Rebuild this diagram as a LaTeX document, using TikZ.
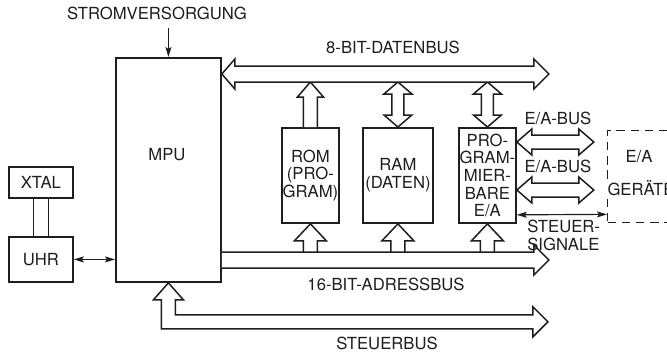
\documentclass[tikz,border=0pt]{standalone}
\usepackage{fontspec}
\setmainfont{TeX Gyre Heros}
\usetikzlibrary{calc,arrows.meta}
\definecolor{ink}{HTML}{1E1E1E}

\begin{document}
\begin{tikzpicture}[x=0.6pt, y=-0.6pt, font=\fontsize{10}{10.6}\selectfont,
  blk/.style={draw=ink, line width=1.1pt, fill=white, anchor=north west,
              inner sep=0pt, align=center, text=ink},
  fatbus/.style={draw=ink, line width=0.9pt, fill=white, line join=miter},
  sigline/.style={draw=ink, line width=0.7pt,
                  >={Stealth[length=6pt,width=3.6pt,inset=1.2pt]}},
  txt/.style={inner sep=0pt, text=ink, align=center}]

% =====================================================================
% Page frame (pixel units, y pointing down)
% =====================================================================
\clip (0,0) rectangle (667,355);
\fill[white] (0,0) rectangle (667,355);

% =====================================================================
% Blocks
% =====================================================================
\node[blk, minimum width=105*0.6pt, minimum height=224*0.6pt] (mpu) at (115,57) {};
\node[txt] (mpulbl) at (167,155) {MPU};

\node[blk, minimum width=64*0.6pt, minimum height=31*0.6pt] (xtal) at (8,166) {XTAL};
\node[blk, minimum width=64*0.6pt, minimum height=45*0.6pt] (uhr)  at (8,236) {UHR};

\node[blk, minimum width=57*0.6pt, minimum height=95*0.6pt] (rom)  at (281,127) {ROM\\(PRO-\\GRAM)};
\node[blk, minimum width=70*0.6pt, minimum height=95*0.6pt] (ram)  at (362,127) {RAM\\(DATEN)};
\node[blk, minimum width=57*0.6pt, minimum height=95*0.6pt] (prog) at (458,127) {PRO-\\GRAM-\\MIER-\\BARE\\E/A};

% peripheral devices, cut by the right margin
\node[blk, dashed, line width=0.8pt, dash pattern=on 5pt off 3.5pt,
      minimum width=90*0.6pt, minimum height=92*0.6pt] (geraet) at (607,130) {};
\node[txt] (geraeta) at (639,157) {E/A};
\node[txt, fill=white, inner sep=1pt] (geraetb) at (641,188) {GERÄTE};

% =====================================================================
% Clock and power
% =====================================================================
\foreach \dx in {-7.5,7.5}{
  \draw[ink, line width=1.1pt] ($(xtal.south)+(\dx,0)$) -- ($(uhr.north)+(\dx,0)$);
}
\draw[sigline,<->] (uhr.east) -- (uhr.east -| mpu.west);

\node[txt] (strom) at (157,13) {STROMVERSORGUNG};
\coordinate (pwr) at ($(mpu.north)+(0,-29)$);
\draw[sigline,->] (pwr) -- (mpu.north);

% =====================================================================
% Block arrows between the data bus and the memories / ports
% =====================================================================

% ROM only reads onto the bus
\draw[fatbus] ($(rom.north)+(-7,0)$) -- ++(0,-30) -- ++(-6,0) -- ++(13,-15)
  -- ++(13,15) -- ++(-6,0) -- ++(0,30);

% RAM and port both ways
\foreach \b in {ram,prog}{
  \draw[fatbus] (\b.north) -- ++(14,-12) -- ++(-8,0) -- ++(0,-21) -- ++(8,0)
    -- ++(-14,-12) -- ++(-14,12) -- ++(8,0) -- ++(0,21) -- ++(-8,0) -- cycle;
}

% 8-bit data bus (double headed)
\coordinate (dbl) at ($(mpu.north east)+(0,17)$);
\draw[fatbus] (dbl) -- ++(13,-15) -- ++(0,7) -- ++(299,0) -- ++(0,-7)
  -- ++(15,15) -- ++(-15,15) -- ++(0,-7) -- ++(-299,0) -- ++(0,7) -- cycle;
\node[txt] (dblbl) at (393,47) {8-BIT-DATENBUS};

% =====================================================================
% Address bus and its taps
% =====================================================================
\foreach \b in {rom,ram,prog}{
  \draw[fatbus] ($(\b.south)+(-7,30)$) -- ++(0,-13) -- ++(-9,0) -- ++(16,-17)
    -- ++(16,17) -- ++(-9,0) -- ++(0,13);
}

\coordinate (abl) at ($(mpu.north east)+(0,195)$);
\draw[fatbus] (abl) -- ++(312,0) -- ++(0,-7) -- ++(15,15) -- ++(-15,15)
  -- ++(0,-7) -- ++(-312,0);
\node[txt] (ablbl) at (386,284) {16-BIT-ADRESSBUS};

% =====================================================================
% Control bus, bent up into the MPU
% =====================================================================
\draw[fatbus] (mpu.south) -- ++(15,17) -- ++(-8,0) -- ++(0,15) -- ++(357.5,0)
  -- ++(0,-8) -- ++(15,15) -- ++(-15,15) -- ++(0,-8) -- ++(-371.5,0)
  -- ++(0,-29) -- ++(-8,0) -- cycle;
\node[txt] (sblbl) at (387,343) {STEUERBUS};

% =====================================================================
% Port side: E/A buses and control signals
% =====================================================================
\foreach \dy/\nm in {15/eaa,63/eab}{
  \draw[fatbus] ($(prog.north east)+(0,\dy)$) -- ++(15,-13) -- ++(0,6) -- ++(47,0)
    -- ++(0,-6) -- ++(15,13) -- ++(-15,13) -- ++(0,-6) -- ++(-47,0) -- ++(0,6) -- cycle;
  \node[txt] (\nm) at ($(prog.north east)+(41,\dy-24)$) {E/A-BUS};
}

\draw[sigline,<->] ($(prog.south east)+(0,-9)$) -- ($(geraet.south west)+(0,-9)$);
\node[txt, anchor=west, align=left] (ssig) at (527,235.5) {STEUER-\\SIGNALE};

\end{tikzpicture}
\end{document}
